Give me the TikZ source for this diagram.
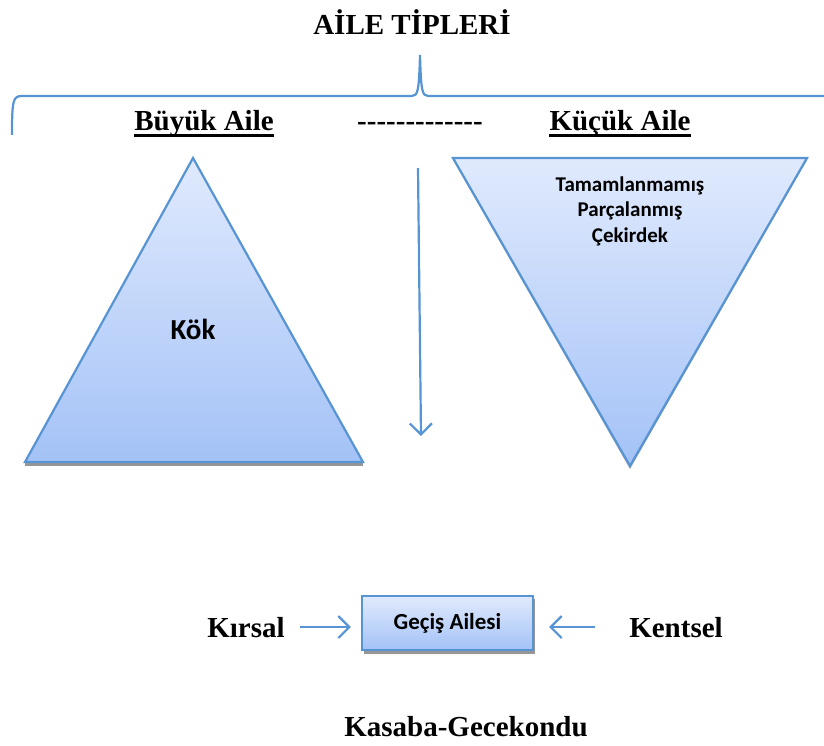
\documentclass[tikz,border=0pt]{standalone}
\usepackage{fontspec}
\setmainfont{Liberation Serif}
\newfontfamily\calibri{Carlito}
\usetikzlibrary{arrows.meta}
\definecolor{lineblue}{RGB}{86,148,212}
\definecolor{filltop}{RGB}{224,234,253}
\definecolor{fillbottom}{RGB}{164,194,247}
\definecolor{shadowgray}{RGB}{150,150,150}

\begin{document}
\begin{tikzpicture}
    [
        x=1pt, y=-1pt,
        heading/.style={font=\fontsize{29}{32}\selectfont\bfseries, inner sep=0pt},
        inside/.style={font=\calibri\bfseries\fontsize{21}{25.5}\selectfont, align=center, inner sep=0pt},
        blueline/.style={draw=lineblue, line width=2.2pt},
        bluefill/.style={top color=filltop, bottom color=fillbottom},
        box/.style={inside, blueline, bluefill, minimum width=171pt, minimum height=54pt,
          font=\calibri\bfseries\fontsize{23}{27}\selectfont},
        flow/.style={blueline, -{Straight Barb[length=11pt, width=22pt, line width=2.2pt]}},
        uline/.style={line width=3pt},
    ]
  \useasboundingbox (0,0) rectangle (824,746);

  % Shapes
  \fill [shadowgray] (25,461) rectangle (363,466);
  \draw [blueline, bluefill] (193,158) -- (25,462) -- (363,462) -- cycle;
  \fill [shadowgray!80] (453,160) -- (807,160) -- (630,469) -- cycle;
  \draw [blueline, bluefill] (453,158) -- (807,158) -- (630,466) -- cycle;
  \fill [shadowgray] (364,599) rectangle (535,654);

  % Brace
  \draw [blueline] (12,135) .. controls (12,100) and (13,96) .. (22,96)
    -- (412,96) .. controls (418,96) and (419,90) .. (420,55)
    .. controls (421,90) and (422,96) .. (428,96) -- (824,96);

  % Nodes
  \node [heading] (T) at (412,22) {AİLE TİPLERİ};
  \node [heading, anchor=base] (B) at (204,131) {Büyük Aile};
  \node [heading, anchor=base] (D) at (420,131) {-{}-{}-{}-{}-{}-{}-{}-{}-{}-{}-{}-{}-};
  \node [heading, anchor=base] (K) at (620,131) {Küçük Aile};
  \node [inside, font=\calibri\bfseries\fontsize{29}{32}\selectfont] (kok) at (193,329) {Kök};
  \node [inside] (cekirdek) at (630,211) {Tamamlanmamış\\Parçalanmış\\Çekirdek};
  \node [box] (gecis) at (447.5,623) {\raisebox{3pt}{Geçiş Ailesi}};
  \node [heading, anchor=base] (kirsal) at (246,637) {Kırsal};
  \node [heading, anchor=base] (kentsel) at (676,637) {Kentsel};
  \node [heading] (kasaba) at (466,727) {Kasaba-Gecekondu};
  \coordinate (top) at (418,168);
  \coordinate (bottom) at (421,436);

  % Connections
  \draw [uline] ([yshift=-5pt]B.base west) -- ([yshift=-5pt]B.base east);
  \draw [uline] ([yshift=-5pt]K.base west) -- ([yshift=-5pt]K.base east);
  \draw [flow] (top) -- (bottom);
  \draw [flow] ([xshift=15pt]kirsal.east) -- ([xshift=-10pt]gecis.west |- kirsal.east);
  \draw [flow] ([xshift=-34pt]kentsel.west) -- ([xshift=15pt]gecis.east |- kentsel.west);
\end{tikzpicture}
\end{document}
